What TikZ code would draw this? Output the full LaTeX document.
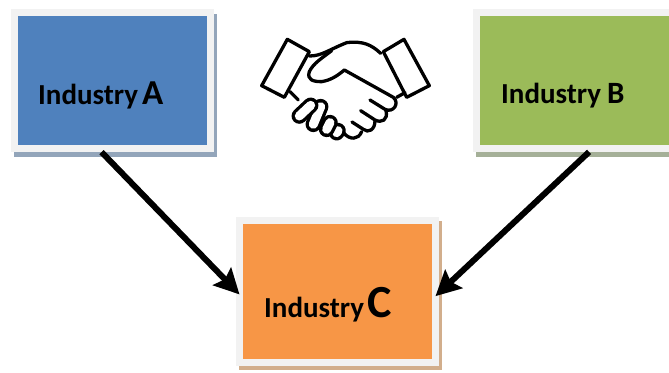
\documentclass[tikz,border=0pt]{standalone}
\usepackage{xcolor}
\usepackage{fontspec}
\setmainfont{Carlito}
\usetikzlibrary{arrows.meta,shadows}

\definecolor{boxrim}{HTML}{F2F2F2}
\definecolor{blueface}{HTML}{4F81BD}
\definecolor{greenface}{HTML}{9BBB59}
\definecolor{orangeface}{HTML}{F79646}
\definecolor{blueshade}{HTML}{93A5BA}
\definecolor{greenshade}{HTML}{A5B098}
\definecolor{orangeshade}{HTML}{D2AE8C}

\tikzset{
  industry/.style={draw=boxrim, line width=7pt, inner sep=0pt, outer sep=0pt,
    minimum width=196pt, minimum height=136pt,
    drop shadow={shadow xshift=3pt, shadow yshift=-4.5pt, fill=#1, draw=#1, line width=7pt, opacity=1}},
  tag/.style={anchor=base west, inner sep=0pt, font=\bfseries\fontsize{29}{29}\selectfont, text=black},
  flow/.style={line width=6pt, -{Stealth[length=25pt,width=25pt,inset=4pt]}},
  palm/.style={line width=3.3pt, line join=round, line cap=round},
  finger/.style={line width=3.3pt, line cap=round, double=white, double distance=9pt}
}

\begin{document}
\begin{tikzpicture}[x=1pt, y=-1pt]
  \useasboundingbox (0,0) rectangle (669,372);

  \node[industry=blueshade, fill=blueface, name=boxA] at (112.5,80.5) {};
  \node[industry=greenshade, fill=greenface, name=boxB] at (574.5,80.5) {};
  \node[industry=orangeshade, fill=orangeface, name=boxC, minimum height=142pt] at (337.5,291) {};

  \node[tag, name=tagA] at (38,104) {Industry\hspace{4pt}{\fontsize{35}{35}\selectfont A}};
  \node[tag, name=tagB] at (501,103) {Industry\hspace{6pt}{\fontsize{31}{31}\selectfont B}};
  \node[tag, name=tagC] at (264,317) {Industry\hspace{3pt}{\fontsize{46}{46}\selectfont C}};

  \draw[flow, shorten <=5pt] (boxA.258.5) -- (boxC.182.3);
  \draw[flow, shorten <=5pt] (boxB.285.8) -- (boxC.357.7);

  % handshake
  \begin{scope}[shift={(250,20)}, x=0.3333pt, y=-0.3333pt]
    \draw[finger] (260,338) -- (264,332);
    \draw[finger] (230,328) -- (240,308);
    \draw[finger] (190,313) -- (212,260);
    \draw[finger] (148,288) -- (182,256);
    \draw[palm] (112,58) -- (178,95) -- (103,232) -- (35,197) -- cycle;
    \draw[palm] (462,58) -- (400,95) -- (470,232) -- (538,197) -- cycle;
    \draw[palm] (178,108) .. controls (215,108) and (235,90) .. (290,68)
      .. controls (340,62) and (365,75) .. (392,100);
    \draw[palm] (245,92) .. controls (215,115) and (190,130) .. (178,155)
      .. controls (170,180) and (190,185) .. (215,185)
      .. controls (245,180) and (265,165) .. (283,150) -- (430,232)
      .. controls (450,250) and (430,280) .. (405,268) -- (360,240);
    \draw[palm] (408,272) .. controls (415,300) and (395,310) .. (375,300) -- (332,272);
    \draw[palm] (375,302) .. controls (375,330) and (355,340) .. (340,328) -- (306,306);
    \draw[palm] (335,335) .. controls (325,360) and (300,360) .. (282,340);
    \draw[palm] (120,215) -- (145,240);
    \draw[palm] (440,232) -- (465,218);
  \end{scope}
\end{tikzpicture}
\end{document}
